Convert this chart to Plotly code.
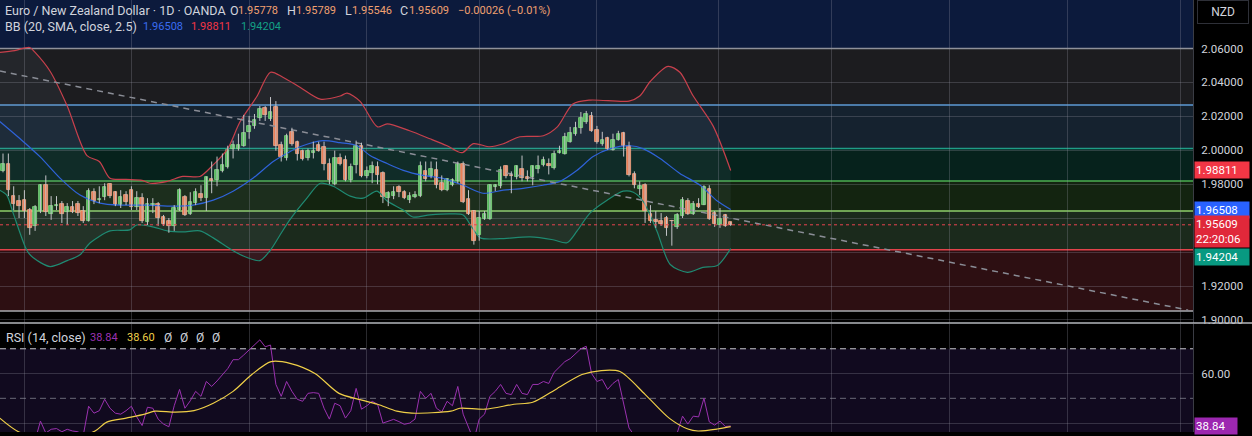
import plotly.graph_objects as go

# EUR/NZD daily candles
OPEN = [1.9876, 1.9922, 1.9730, 1.9701, 1.9706, 1.9648, 1.9555, 1.9642, 1.9794, 1.9625,
        1.9671, 1.9683, 1.9636, 1.9665, 1.9683, 1.9642, 1.9584, 1.9753, 1.9706, 1.9724,
        1.9800, 1.9753, 1.9677, 1.9736, 1.9765, 1.9665, 1.9718, 1.9578, 1.9677, 1.9683,
        1.9607, 1.9584, 1.9555, 1.9648, 1.9724, 1.9625, 1.9689, 1.9741, 1.9718, 1.9829,
        1.9823, 1.9876, 1.9899, 2.0010, 2.0010, 2.0027, 2.0109, 2.0144, 2.0191, 2.0250,
        2.0185, 2.0256, 2.0033, 1.9952, 2.0109, 2.0051, 1.9998, 1.9957, 1.9986, 2.0033,
        2.0021, 1.9917, 1.9800, 1.9957, 1.9940, 1.9823, 1.9911, 2.0027, 1.9846, 1.9864,
        1.9899, 1.9864, 1.9718, 1.9730, 1.9782, 1.9753, 1.9706, 1.9724, 1.9730, 1.9876,
        1.9846, 1.9882, 1.9806, 1.9765, 1.9794, 1.9817, 1.9922, 1.9712, 1.9642, 1.9502,
        1.9595, 1.9595, 1.9782, 1.9788, 1.9905, 1.9852, 1.9841, 1.9887, 1.9841, 1.9841,
        1.9887, 1.9911, 1.9922, 1.9893, 1.9986, 1.9981, 2.0051, 2.0098, 2.0133, 2.0168,
        2.0203, 2.0121, 2.0039, 2.0074, 2.0004, 2.0062, 2.0103, 2.0027, 1.9858, 1.9771,
        1.9794, 1.9625, 1.9590, 1.9584, 1.9601, 1.9584, 1.9549, 1.9613, 1.9701, 1.9625,
        1.9683, 1.9677, 1.9771, 1.9630, 1.9560, 1.9619, 1.95778]
HIGH = [1.9981, 1.9981, 1.9788, 1.9736, 1.9765, 1.9660, 1.9677, 1.9800, 1.9852, 1.9730,
        1.9730, 1.9701, 1.9689, 1.9701, 1.9701, 1.9671, 1.9776, 1.9776, 1.9788, 1.9806,
        1.9806, 1.9759, 1.9765, 1.9759, 1.9788, 1.9759, 1.9747, 1.9718, 1.9718, 1.9695,
        1.9619, 1.9601, 1.9677, 1.9776, 1.9736, 1.9753, 1.9776, 1.9794, 1.9846, 1.9934,
        1.9963, 1.9981, 2.0027, 2.0057, 2.0098, 2.0209, 2.0203, 2.0214, 2.0261, 2.0261,
        2.0314, 2.0290, 2.0051, 2.0098, 2.0133, 2.0057, 2.0004, 2.0010, 2.0051, 2.0051,
        2.0051, 1.9952, 1.9998, 1.9981, 1.9969, 1.9922, 2.0057, 2.0045, 1.9905, 1.9934,
        1.9934, 1.9876, 1.9759, 1.9788, 1.9794, 1.9765, 1.9753, 1.9759, 1.9934, 1.9934,
        1.9934, 1.9934, 1.9852, 1.9835, 1.9835, 1.9934, 1.9934, 1.9765, 1.9648, 1.9642,
        1.9642, 1.9800, 1.9800, 1.9905, 1.9911, 1.9876, 1.9911, 1.9969, 1.9882, 1.9911,
        1.9969, 1.9963, 1.9952, 1.9998, 2.0027, 2.0103, 2.0138, 2.0168, 2.0226, 2.0232,
        2.0226, 2.0144, 2.0109, 2.0080, 2.0098, 2.0115, 2.0109, 2.0051, 1.9876, 1.9817,
        1.9806, 1.9677, 1.9642, 1.9630, 1.9613, 1.9590, 1.9630, 1.9724, 1.9718, 1.9701,
        1.9718, 1.9794, 1.9794, 1.9642, 1.9660, 1.9625, 1.95789]
LOW = [1.9870, 1.9730, 1.9648, 1.9601, 1.9601, 1.9502, 1.9525, 1.9630, 1.9613, 1.9590,
       1.9648, 1.9572, 1.9560, 1.9630, 1.9613, 1.9572, 1.9580, 1.9683, 1.9689, 1.9706,
       1.9718, 1.9671, 1.9660, 1.9677, 1.9648, 1.9648, 1.9572, 1.9560, 1.9630, 1.9555,
       1.9555, 1.9514, 1.9525, 1.9642, 1.9613, 1.9619, 1.9677, 1.9701, 1.9642, 1.9747,
       1.9788, 1.9870, 1.9893, 1.9952, 1.9998, 2.0021, 2.0068, 2.0127, 2.0173, 2.0173,
       2.0173, 1.9998, 1.9934, 1.9940, 2.0027, 1.9940, 1.9940, 1.9940, 1.9952, 1.9992,
       1.9882, 1.9800, 1.9794, 1.9911, 1.9817, 1.9811, 1.9864, 1.9841, 1.9835, 1.9806,
       1.9800, 1.9689, 1.9671, 1.9712, 1.9724, 1.9712, 1.9689, 1.9718, 1.9724, 1.9817,
       1.9835, 1.9776, 1.9759, 1.9759, 1.9788, 1.9806, 1.9689, 1.9619, 1.9444, 1.9467,
       1.9590, 1.9590, 1.9759, 1.9776, 1.9835, 1.9747, 1.9829, 1.9817, 1.9817, 1.9794,
       1.9864, 1.9905, 1.9858, 1.9887, 1.9981, 1.9975, 2.0045, 2.0086, 2.0098, 2.0156,
       2.0109, 2.0039, 2.0027, 2.0004, 1.9998, 2.0057, 1.9963, 1.9846, 1.9776, 1.9736,
       1.9572, 1.9572, 1.9543, 1.9555, 1.9496, 1.9438, 1.9537, 1.9601, 1.9619, 1.9619,
       1.9660, 1.9677, 1.9590, 1.9549, 1.9543, 1.9549, 1.95546]
CLOSE = [1.9917, 1.9765, 1.9683, 1.9671, 1.9642, 1.9543, 1.9665, 1.9794, 1.9636, 1.9671,
         1.9677, 1.9625, 1.9665, 1.9636, 1.9630, 1.9584, 1.9759, 1.9701, 1.9712, 1.9782,
         1.9730, 1.9677, 1.9724, 1.9695, 1.9665, 1.9718, 1.9584, 1.9683, 1.9683, 1.9601,
         1.9566, 1.9555, 1.9660, 1.9765, 1.9619, 1.9695, 1.9753, 1.9718, 1.9841, 1.9817,
         1.9882, 1.9911, 2.0004, 2.0033, 2.0033, 2.0103, 2.0144, 2.0179, 2.0244, 2.0209,
         2.0226, 2.0027, 1.9963, 2.0086, 2.0039, 1.9981, 1.9946, 1.9998, 1.9998, 1.9998,
         1.9917, 1.9823, 1.9957, 1.9922, 1.9823, 1.9899, 2.0027, 1.9846, 1.9876, 1.9905,
         1.9852, 1.9724, 1.9747, 1.9753, 1.9753, 1.9718, 1.9730, 1.9736, 1.9905, 1.9829,
         1.9887, 1.9794, 1.9765, 1.9829, 1.9823, 1.9922, 1.9695, 1.9625, 1.9467, 1.9601,
         1.9625, 1.9794, 1.9794, 1.9882, 1.9846, 1.9846, 1.9905, 1.9835, 1.9829, 1.9905,
         1.9905, 1.9940, 1.9905, 1.9981, 1.9998, 2.0080, 2.0103, 2.0133, 2.0191, 2.0214,
         2.0115, 2.0051, 2.0062, 2.0010, 2.0062, 2.0098, 2.0027, 1.9852, 1.9794, 1.9788,
         1.9642, 1.9584, 1.9578, 1.9566, 1.9543, 1.9584, 1.9619, 1.9706, 1.9625, 1.9683,
         1.9665, 1.9782, 1.9595, 1.9566, 1.9595, 1.9555, 1.95609]

# Bollinger Bands (20, SMA, 2.5) sampled along the candles
BB_UP_IDX = [-0.6, 2.2, 5, 6, 8.8, 12, 15.7, 18, 20, 23, 26, 27.5, 30.7, 33.6, 36.8, 39, 42,
             44.3, 47.5, 50, 52.3, 55.5, 59.3, 63, 64.3, 66.7, 70, 71.8, 76, 79.8, 83, 85.8,
             87.9, 91, 93.5, 96.6, 101, 103.6, 106.5, 109.7, 117, 119, 121, 124.3, 126.5,
             129, 132.7, 136]
BB_UP = [2.0577, 2.0588, 2.0606, 2.0577, 2.0466, 2.0261, 1.9969, 1.9934, 1.9835, 1.9829,
         1.9823, 1.9806, 1.9817, 1.9846, 1.9846, 1.9905, 2.0010, 2.0168, 2.0320, 2.0460,
         2.0431, 2.0372, 2.0302, 2.0320, 2.0337, 2.0290, 2.0138, 2.0156, 2.0115, 2.0068,
         2.0027, 1.9986, 2.0039, 2.0021, 2.0039, 2.0080, 2.0086, 2.0138, 2.0273, 2.0296,
         2.0290, 2.0320, 2.0407, 2.0495, 2.0460, 2.0320, 2.0144, 1.98811]
BB_MID_IDX = [-0.6, 3.2, 6.9, 10.7, 14.4, 18.1, 21.9, 26.9, 31.8, 35.5, 39.3, 43, 46.7, 50.5,
              53.6, 55.5, 59.8, 63, 66.2, 68.6, 71.8, 74.8, 78.5, 82.2, 86, 89.7, 93.5, 97.2,
              100.9, 104.1, 107.3, 110.3, 113.5, 117.2, 119.6, 122.8, 126.5, 130.3, 133.5, 136]
BB_MID = [2.0170, 2.0068, 1.9963, 1.9835, 1.9736, 1.9689, 1.9677, 1.9677, 1.9671, 1.9677,
          1.9706, 1.9759, 1.9835, 1.9934, 1.9992, 2.0021, 2.0057, 2.0045, 2.0027, 1.9969,
          1.9922, 1.9882, 1.9852, 1.9835, 1.9794, 1.9747, 1.9765, 1.9776, 1.9794, 1.9817,
          1.9882, 1.9963, 2.0010, 2.0027, 2.0010, 1.9952, 1.9864, 1.9794, 1.9701, 1.96508]
BB_LO_IDX = [-0.6, 0.7, 1.9, 4.5, 5.6, 8.8, 12, 14.4, 16.3, 20, 23.7, 25, 28, 30.7, 33.6, 36.8,
             39.3, 43, 45.6, 48, 49.9, 51.8, 53.6, 56.8, 59.3, 61.7, 64.9, 67.3, 69.9, 71.8,
             74.8, 76.6, 79.8, 83.6, 86, 87.7, 89.2, 92.9, 98.5, 102.8, 105.4, 107.3, 109.7,
             112.9, 115.9, 117.8, 119.6, 122.2, 124.7, 127.9, 130.8, 133.5, 136]
BB_LO = [1.9765, 1.9736, 1.9630, 1.9408, 1.9368, 1.9315, 1.9350, 1.9385, 1.9455, 1.9525,
         1.9531, 1.9560, 1.9549, 1.9525, 1.9519, 1.9525, 1.9484, 1.9408, 1.9368, 1.9350,
         1.9408, 1.9502, 1.9590, 1.9718, 1.9806, 1.9788, 1.9730, 1.9718, 1.9759, 1.9701,
         1.9648, 1.9607, 1.9619, 1.9625, 1.9619, 1.9543, 1.9484, 1.9479, 1.9490, 1.9473,
         1.9455, 1.9525, 1.9630, 1.9706, 1.9759, 1.9753, 1.9701, 1.9525, 1.9327, 1.9281,
         1.9310, 1.9321, 1.94204]

# RSI (14) per candle and its moving average
RSI = [35, 33, 32, 31, 31, 29, 33, 40.8, 36, 37.5,
       37.8, 36.5, 37.5, 36.8, 36.5, 35, 46.8, 44, 45, 49.6,
       46, 44, 43.6, 45, 46.8, 42.5, 39, 46.4, 46, 41.6,
       39.6, 38.5, 47, 53.6, 46, 49, 52.8, 50.8, 56.8, 54.8,
       57, 59.6, 62, 65.6, 65.6, 67.5, 69.5, 71.5, 73.6, 70.8,
       71.5, 55.6, 50.8, 56.8, 52.8, 49.6, 48.8, 52, 52.3, 52,
       46, 41.6, 48, 47, 42, 45, 54, 45.6, 47, 48.8,
       47.6, 40, 40.8, 41.5, 40.6, 39.5, 40, 41.6, 52.8, 50,
       52, 46, 44.5, 48.8, 47, 54.8, 43.6, 38.8, 33, 41.6,
       43.6, 50.8, 52.8, 55.6, 52, 51.5, 55.6, 52, 51.5, 55.6,
       55.6, 56.8, 56, 60.5, 62.8, 64.8, 66, 68, 70, 71,
       60, 56.8, 57.6, 53.6, 56, 57.6, 48, 38, 35, 35.5,
       30, 28, 28, 27.5, 26.5, 27, 36, 42.8, 39.6, 42.8,
       42.5, 50, 40.5, 39.2, 40.8, 38.6, 38.84]
RSI_MA_IDX = [-0.6, 3, 8, 13, 17.2, 19.4, 23, 26.5, 28.4, 32.2, 35.7, 39.3, 43, 46.5, 50.1,
              53.8, 58.3, 62.8, 66.5, 70, 73.6, 76.4, 83.7, 85.4, 90.1, 95.5, 99, 103.6,
              108.2, 111.8, 115.3, 120, 124.5, 128, 129.9, 133.5, 136]
RSI_MA = [42, 36.4, 34, 34, 36.8, 40.4, 42, 43.6, 44.8, 44.4, 45, 48, 52.8, 59.6, 64.8,
          64, 60, 52, 49.6, 47.6, 44.8, 44, 44.8, 46, 45.6, 47.6, 48.4, 54, 59.6, 61.2,
          60.8, 51.6, 42, 37.6, 36.8, 37.6, 38.6]

# drawings on the chart
TREND_IDX = [-0.56, 221.5]
TREND_PRICE = [2.0467, 1.9058]
LEVELS = [2.06, 2.0267, 2.0010, 1.9819, 1.9642, 1.9414, 1.9053]
LEVEL_COLORS = ["#8d8f96", "#5d9ad6", "#1f9c86", "#4caf50", "#8fcf6a", "#e2434b", "#a9abb0"]
ZONE_COLORS = ["#1c1c1f", "#15222f", "#06221c", "#132410", "#1b2a1c", "#2d0f12"]
TOP_ZONE = "#0c1a3c"

PRICE_TICKS = [1.90, 1.92, 1.94, 1.96, 1.98, 2.00, 2.02, 2.04, 2.06]
MONTH_IDX = [4.1, 24.1, 46, 68, 89, 111, 133.8, 154.8, 176.8, 198.9, 220]

LAST_PRICE = 1.95609
CHANGE_TEXT = "−0.00026 (−0.01%)"
BB_LAST = {"mid": 1.96508, "up": 1.98811, "lo": 1.94204}
RSI_LAST, RSI_MA_LAST = 38.84, 38.60

W, H, PLOT_W = 1252, 436, 1193
P_TOP, P_BOT = 2.0886, 1.8985
R_TOP, R_BOT = 80.2, 36.4

IDX = list(range(len(CLOSE)))
assert len(OPEN) == len(HIGH) == len(LOW) == len(CLOSE) == len(RSI)

UP_FILL, UP_LINE = "#4dbb55", "#86df7f"
DN_FILL, DN_LINE = "#f2784b", "#ffab85"
is_up = [c > o for o, c in zip(OPEN, CLOSE)]

wick_x, wick_y = [], []
for i, (h, l) in enumerate(zip(HIGH, LOW)):
    wick_x += [i, i, None]
    wick_y += [l, h, None]

fig = go.Figure()

# Bollinger band background + lines
fig.add_trace(go.Scatter(x=BB_LO_IDX, y=BB_LO, mode="lines",
                         line=dict(color="#1f8a72", width=1.2, shape="spline", smoothing=0.8),
                         hoverinfo="skip"))
fig.add_trace(go.Scatter(x=BB_UP_IDX, y=BB_UP, mode="lines", fill="tonexty",
                         fillcolor="rgba(140,160,185,0.08)",
                         line=dict(color="#c8404c", width=1.2, shape="spline", smoothing=0.8),
                         hoverinfo="skip"))
fig.add_trace(go.Scatter(x=BB_MID_IDX, y=BB_MID, mode="lines",
                         line=dict(color="#2f63d9", width=1.2, shape="spline", smoothing=0.8),
                         hoverinfo="skip"))

# trend line
fig.add_trace(go.Scatter(x=TREND_IDX, y=TREND_PRICE, mode="lines",
                         line=dict(color="#8a8d96", width=1.5, dash="6px,5px"),
                         hoverinfo="skip"))

# candles: wicks then bodies
fig.add_trace(go.Scatter(x=wick_x, y=wick_y, mode="lines",
                         line=dict(color="#c4c4c8", width=1), hoverinfo="skip"))
fig.add_trace(go.Bar(x=IDX,
                     y=[max(abs(c - o), 0.00008) for o, c in zip(OPEN, CLOSE)],
                     base=[min(o, c) for o, c in zip(OPEN, CLOSE)],
                     width=0.66,
                     marker=dict(color=[UP_FILL if u else DN_FILL for u in is_up],
                                 line=dict(color=[UP_LINE if u else DN_LINE for u in is_up],
                                           width=0.8))))

# RSI pane
fig.add_trace(go.Scatter(x=IDX, y=RSI, yaxis="y2", mode="lines",
                         line=dict(color="#9b32b0", width=1), hoverinfo="skip"))
fig.add_trace(go.Scatter(x=RSI_MA_IDX, y=RSI_MA, yaxis="y2", mode="lines",
                         line=dict(color="#f0d048", width=1.2, shape="spline", smoothing=0.8),
                         hoverinfo="skip"))

shapes = []
# coloured zones
bounds = [P_TOP] + LEVELS
zone_cols = [TOP_ZONE] + ZONE_COLORS
for top, bot, col in zip(bounds[:-1], bounds[1:], zone_cols):
    shapes.append(dict(type="rect", xref="paper", yref="y", x0=0, x1=1, y0=bot, y1=top,
                       fillcolor=col, line_width=0, layer="below"))
for lv, col in zip(LEVELS, LEVEL_COLORS):
    shapes.append(dict(type="line", xref="paper", yref="y", x0=0, x1=1, y0=lv, y1=lv,
                       line=dict(color=col, width=1.5), layer="between"))
# last price dotted line
shapes.append(dict(type="line", xref="paper", yref="y", x0=0, x1=1,
                   y0=LAST_PRICE, y1=LAST_PRICE,
                   line=dict(color="#e8434f", width=1, dash="dot"), layer="above"))
# RSI band
shapes.append(dict(type="rect", xref="paper", yref="y2", x0=0, x1=1, y0=30, y1=70,
                   fillcolor="#110a1f", line_width=0, layer="below"))
shapes.append(dict(type="line", xref="paper", yref="y2", x0=0, x1=1, y0=70, y1=70,
                   line=dict(color="#c9c9cf", width=1, dash="6px,4px"), layer="between"))
shapes.append(dict(type="line", xref="paper", yref="y2", x0=0, x1=1, y0=50, y1=50,
                   line=dict(color="#6a6a78", width=1, dash="6px,4px"), layer="between"))
# pane separator
sep = 1 - 326 / H
shapes.append(dict(type="line", xref="paper", yref="paper", x0=0, x1=W / PLOT_W,
                   y0=sep, y1=sep, line=dict(color="#b5b7bd", width=1.5)))

FONT = "Roboto"
TXT = "#d1d4dc"
OR = "#f0a070"
annotations = []


def text_at(xpix, ypix, text, color=TXT, size=12.5):
    annotations.append(dict(xref="paper", yref="paper", x=xpix / PLOT_W, y=1 - ypix / H,
                            xanchor="left", yanchor="middle", showarrow=False, text=text,
                            borderpad=0, font=dict(family=FONT, size=size, color=color)))


# legend rows
NUM = 11
text_at(4, 11, "Euro / New Zealand Dollar · 1D · OANDA")
for xp, xn, key, val in [(229, 237, "O", OPEN[-1]), (286, 295, "H", HIGH[-1]),
                         (344, 351, "L", LOW[-1]), (399, 408, "C", CLOSE[-1])]:
    text_at(xp, 11, key)
    text_at(xn, 11, f"{val:.5f}", color=OR, size=NUM)
text_at(457, 11, CHANGE_TEXT, color=OR, size=NUM)

text_at(4, 27, "BB (20, SMA, close, 2.5)")
text_at(142, 27, f"{BB_LAST['mid']:.5f}", color="#3a6cf0", size=NUM)
text_at(190, 27, f"{BB_LAST['up']:.5f}", color="#f23645", size=NUM)
text_at(240, 27, f"{BB_LAST['lo']:.5f}", color="#14a085", size=NUM)

text_at(5, 341, "RSI (14, close)")
text_at(89, 341, f"{RSI_LAST:.2f}", color="#9b32b0", size=NUM)
text_at(126, 341, f"{RSI_MA_LAST:.2f}", color="#f0d048", size=NUM)
for xp in [163, 179, 195, 211]:
    text_at(xp, 341, "Ø", size=12)

TAG = 11.5


def price_tag(val, col, yref="y", shift=0, text=None, width=52):
    annotations.append(dict(xref="paper", yref=yref, x=1194 / PLOT_W, y=val, yshift=shift,
                            xanchor="left", yanchor="middle", showarrow=False,
                            text=text or f"{val:.5f}", align="left", width=width,
                            bgcolor=col, borderpad=1,
                            font=dict(family=FONT, size=TAG, color="#ffffff")))


price_tag(BB_LAST["up"], "#f23645")
price_tag(BB_LAST["mid"], "#2962ff")
price_tag(LAST_PRICE, "#e0283a", shift=-7, text=f"{LAST_PRICE:.5f}<br>22:20:06")
price_tag(BB_LAST["lo"], "#089981", shift=-8)
price_tag(RSI_LAST, "#9c27b0", yref="y2", text=f"{RSI_LAST:.2f}", width=40)

annotations.append(dict(xref="paper", yref="paper", x=1197 / PLOT_W, y=1, xanchor="left",
                        yanchor="top", showarrow=False, text="NZD", width=48, height=20,
                        bgcolor="#000000", bordercolor="#2e3038", borderwidth=1,
                        font=dict(family=FONT, size=12, color=TXT)))

grid = "rgba(150,152,165,0.28)"
fig.update_layout(
    width=W, height=H, margin=dict(l=0, r=W - PLOT_W, t=0, b=0),
    paper_bgcolor="#000000", plot_bgcolor="#000000", showlegend=False,
    bargap=0, shapes=shapes, annotations=annotations, hovermode=False,
    xaxis=dict(range=[-0.56, 222.4], tickvals=MONTH_IDX, showticklabels=False,
               showgrid=True, gridcolor=grid, gridwidth=1, zeroline=False,
               anchor="y2", fixedrange=True),
    yaxis=dict(domain=[1 - 325.5 / H, 1], range=[P_BOT, P_TOP], side="right",
               tickvals=PRICE_TICKS,
               ticktext=["" if abs(t - 1.96) < 1e-9 or abs(t - 1.94) < 1e-9 else f"{t:.5f}"
                         for t in PRICE_TICKS],
               showgrid=True, gridcolor=grid, zeroline=False,
               ticks="outside", ticklen=5, tickcolor="#000000",
               showline=True, linecolor="#3a3c44",
               tickfont=dict(family=FONT, size=TAG, color=TXT)),
    yaxis2=dict(domain=[0, (H - 326.5) / H], range=[R_BOT, R_TOP], side="right",
                tickvals=[40, 60], ticktext=["", "60.00"],
                showgrid=True, gridcolor=grid, zeroline=False,
                ticks="outside", ticklen=5, tickcolor="#000000",
                showline=True, linecolor="#3a3c44",
                tickfont=dict(family=FONT, size=TAG, color=TXT)),
)

# pin the chart to the window's top-left corner so no page margin or scroll offsets it
PAGE_FIX = """
document.documentElement.style.margin = '0';
document.documentElement.style.overflow = 'hidden';
document.body.style.margin = '0';
document.body.style.overflow = 'hidden';
var gd = document.getElementById('{plot_id}');
gd.style.position = 'fixed';
gd.style.left = '0px';
gd.style.top = '0px';
gd.style.overflow = 'hidden';
window.scrollTo(0, 0);
"""
fig.write_html("out.html", config={"displayModeBar": False}, post_script=PAGE_FIX)
